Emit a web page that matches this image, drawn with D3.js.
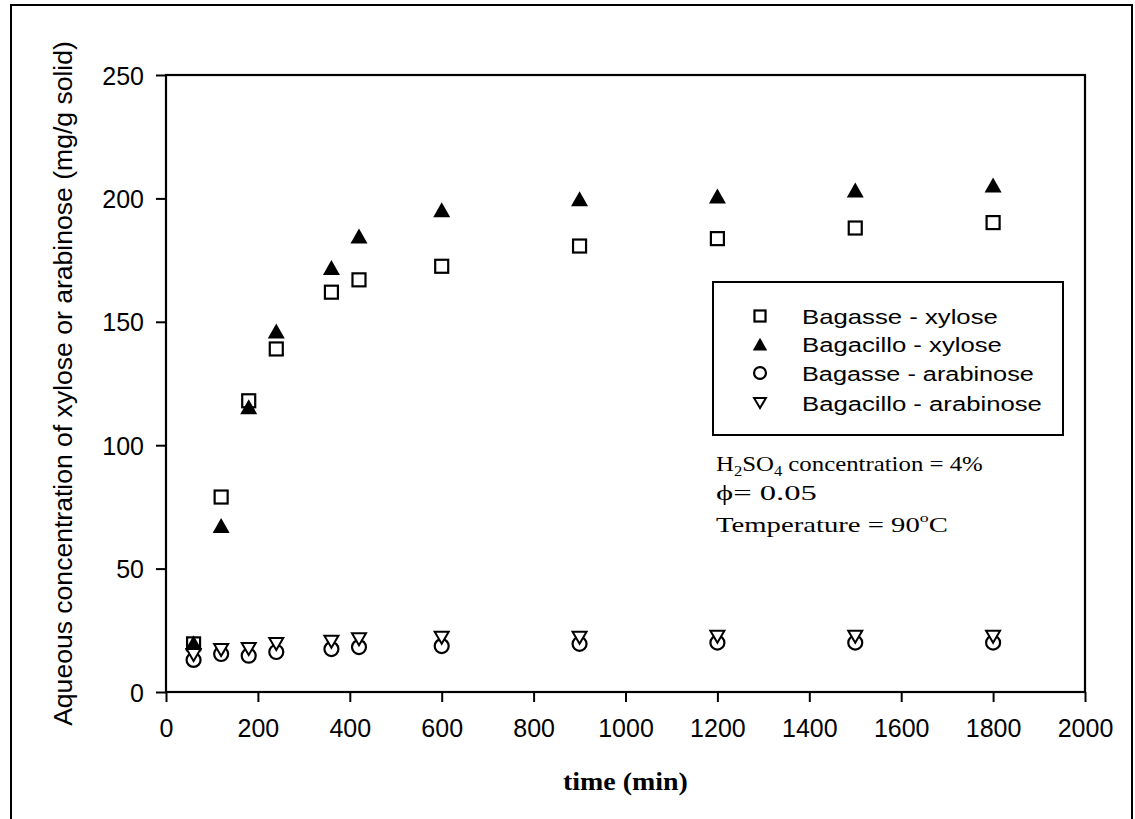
<!DOCTYPE html>
<html>
<head>
<meta charset="utf-8">
<script src="https://cdn.jsdelivr.net/npm/d3@7"></script>
<style>
  html, body { margin: 0; padding: 0; background: #fff; }
  svg { display: block; }
</style>
</head>
<body>
<svg id="chart" width="1135" height="819"></svg>
<script>
// ---------------- DATA ----------------
const times = [60, 120, 180, 240, 360, 420, 600, 900, 1200, 1500, 1800];
const bagasseXylose      = [19.5, 79, 118, 139, 162, 167, 172.5, 180.7, 183.7, 188, 190.2];
const bagacilloXylose    = [20, 67.5, 115.6, 146.3, 172, 184.8, 195.4, 199.9, 201, 203.4, 205.4];
const bagasseArabinose   = [13, 15.4, 14.7, 16.2, 17.4, 18.2, 18.6, 19.5, 20, 20, 20];
const bagacilloArabinose = [15, 17, 17.4, 19.4, 20.4, 21.4, 22, 22, 22.4, 22.4, 22.4];
const seriesNames = ["Bagasse - xylose", "Bagacillo - xylose", "Bagasse - arabinose", "Bagacillo - arabinose"];
const xTickValues = [0, 200, 400, 600, 800, 1000, 1200, 1400, 1600, 1800, 2000];
const yTickValues = [0, 50, 100, 150, 200, 250];
const xTitle = "time (min)";
const yTitle = "Aqueous concentration of xylose or arabinose (mg/g solid)";
const noteLines = ["H2SO4 concentration = 4%", "\u03d5= 0.05", "Temperature = 90\u00b0C"];

// ---------------- LAYOUT ----------------
const svg = d3.select("#chart");
const SANS = "'Liberation Sans', Arial, Helvetica, sans-serif";
const SERIF = "'Liberation Serif', 'Times New Roman', Times, serif";
const plot = { left: 166, right: 1085, top: 75, bottom: 692 };

const x = d3.scaleLinear().domain([0, 2000]).range([plot.left, plot.right]);
const y = d3.scaleLinear().domain([0, 250]).range([plot.bottom, plot.top]);

// stretch a text element horizontally to a target width
function fitWidth(sel, target, anchorX, anchor) {
  const node = sel.node();
  const w = node.getBBox().width;
  const s = target / w;
  let x0 = anchorX;
  if (anchor === "middle") x0 = anchorX - target / 2;
  sel.attr("text-anchor", "start").attr("x", 0)
     .attr("transform", `translate(${x0},${sel.attr("data-y")}) scale(${s},1)`)
     .attr("y", 0);
}

// outer frame (open at bottom)
svg.append("path")
  .attr("d", "M11,819 L11,5 L1132,5 L1132,819")
  .attr("fill", "none").attr("stroke", "#000").attr("stroke-width", 2);

// axes
const xAxis = svg.append("g")
  .attr("transform", `translate(0,${plot.bottom})`)
  .call(d3.axisBottom(x).tickValues(xTickValues).tickSize(10).tickSizeOuter(0).tickFormat(d3.format("d")));
xAxis.select(".domain").remove();
xAxis.selectAll(".tick line").attr("stroke", "#000").attr("stroke-width", 2);
xAxis.selectAll(".tick text")
  .attr("y", 45).attr("dy", 0)
  .attr("font-family", SANS).attr("font-size", 25).attr("fill", "#000");

const yAxis = svg.append("g")
  .attr("transform", `translate(${plot.left},0)`)
  .call(d3.axisLeft(y).tickValues(yTickValues).tickSize(10).tickSizeOuter(0).tickFormat(d3.format("d")));
yAxis.select(".domain").remove();
yAxis.selectAll(".tick line").attr("stroke", "#000").attr("stroke-width", 2);
yAxis.selectAll(".tick text")
  .attr("x", -22).attr("dy", "0.36em")
  .attr("font-family", SANS).attr("font-size", 25).attr("fill", "#000");

// plot frame
svg.append("rect")
  .attr("x", plot.left).attr("y", plot.top)
  .attr("width", plot.right - plot.left).attr("height", plot.bottom - plot.top)
  .attr("fill", "none").attr("stroke", "#000").attr("stroke-width", 2.2);

// marker drawing
function triUp(w, h) { return `M0,${-h/2} L${w/2},${h/2} L${-w/2},${h/2} Z`; }
function triDown(w, h) { return `M${-w/2},${-h/2} L${w/2},${-h/2} L0,${h/2} Z`; }

function drawMarker(g, type, big) {
  const k = big ? 1 : 0.85;
  if (type === 0) {
    const s = 13 * k;
    g.append("rect").attr("x", -s/2).attr("y", -s/2).attr("width", s).attr("height", s)
      .attr("fill", "#fff").attr("stroke", "#000").attr("stroke-width", 2.2);
  } else if (type === 1) {
    g.append("path").attr("d", triUp(17 * k, 15 * k)).attr("fill", "#000");
  } else if (type === 2) {
    g.append("circle").attr("r", 7 * k)
      .attr("fill", "#fff").attr("stroke", "#000").attr("stroke-width", 2.2);
  } else {
    g.append("path").attr("d", triDown(14 * k, 12 * k))
      .attr("fill", "#fff").attr("stroke", "#000").attr("stroke-width", 2);
  }
}

const allSeries = [bagasseXylose, bagacilloXylose, bagasseArabinose, bagacilloArabinose];
allSeries.forEach((vals, si) => {
  const g = svg.append("g").attr("class", "series-" + si);
  vals.forEach((v, i) => {
    const m = g.append("g").attr("transform", `translate(${x(times[i])},${y(v)})`);
    drawMarker(m, si, true);
  });
});

// legend
const legend = svg.append("g");
legend.append("rect")
  .attr("x", 713).attr("y", 282).attr("width", 350).attr("height", 153)
  .attr("fill", "#fff").attr("stroke", "#000").attr("stroke-width", 2);
const legendRows = [316, 344, 373, 403];
const legendWidths = [196, 200, 232, 240];
seriesNames.forEach((name, i) => {
  const m = legend.append("g").attr("transform", `translate(760,${legendRows[i]})`);
  drawMarker(m, i, false);
  const t = legend.append("text")
    .attr("data-y", legendRows[i] + 7.5)
    .attr("font-family", SANS).attr("font-size", 21).attr("fill", "#000")
    .text(name);
  fitWidth(t, legendWidths[i], 802, "start");
});

// annotation
const noteBaselines = [471, 500, 532];
const noteWidths = [267, 101, 232];
noteLines.forEach((line, i) => {
  const t = svg.append("text")
    .attr("data-y", noteBaselines[i])
    .attr("font-family", SERIF).attr("font-size", 21).attr("fill", "#000");
  if (i === 0) {
    t.append("tspan").text("H");
    t.append("tspan").text("2").attr("font-size", 14).attr("dy", 5);
    t.append("tspan").text("SO").attr("dy", -5);
    t.append("tspan").text("4").attr("font-size", 14).attr("dy", 5);
    t.append("tspan").text(" concentration = 4%").attr("dy", -5);
  } else if (i === 2) {
    t.append("tspan").text("Temperature = 90");
    t.append("tspan").text("o").attr("font-size", 13).attr("dy", -10);
    t.append("tspan").text("C").attr("dy", 10);
  } else {
    t.text(line);
  }
  fitWidth(t, noteWidths[i], 716, "start");
});

// axis titles
const xt = svg.append("text")
  .attr("data-y", 790)
  .attr("font-family", SERIF).attr("font-size", 25).attr("font-weight", "bold").attr("fill", "#000")
  .text(xTitle);
fitWidth(xt, 125, (plot.left + plot.right) / 2, "middle");

const yt = svg.append("text")
  .attr("font-family", SANS).attr("font-size", 25).attr("fill", "#000")
  .attr("text-anchor", "middle")
  .attr("transform", `translate(72,${(plot.top + plot.bottom) / 2}) rotate(-90)`)
  .text(yTitle);
const yw = yt.node().getBBox().width;
yt.attr("transform", `translate(72,${(plot.top + plot.bottom) / 2}) rotate(-90) scale(${685 / yw},1)`);
</script>
</body>
</html>
